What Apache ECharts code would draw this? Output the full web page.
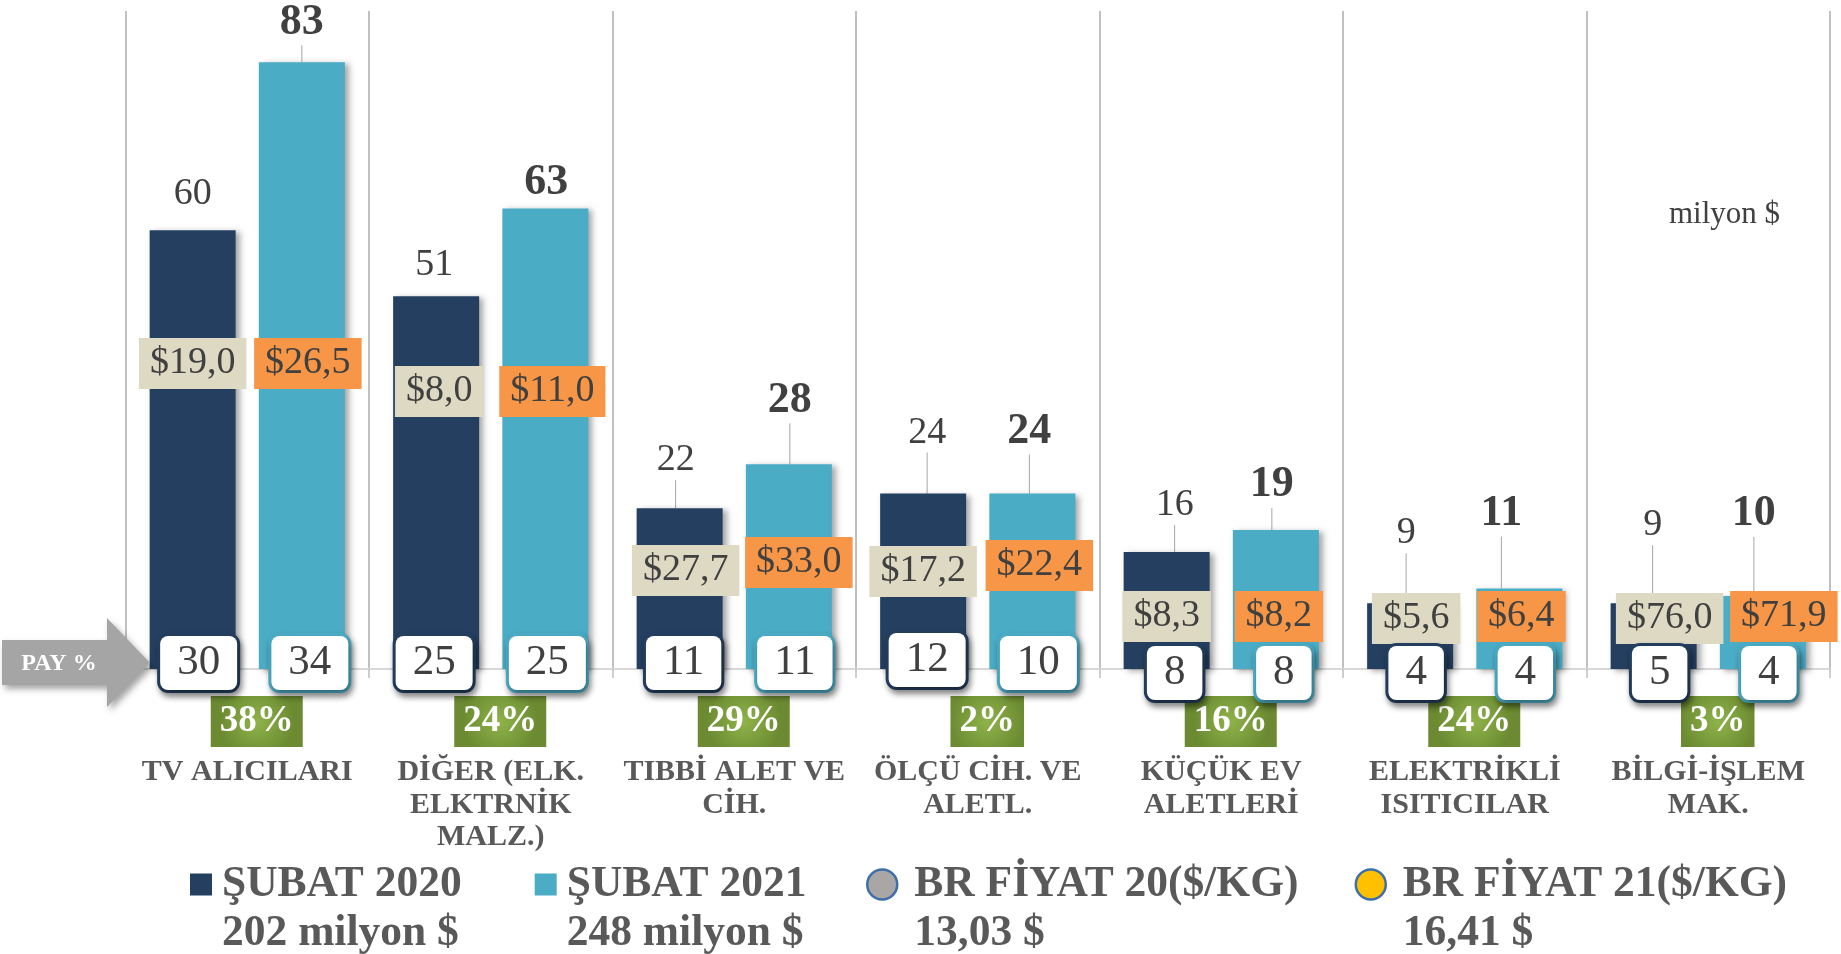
<!DOCTYPE html>
<html>
<head>
<meta charset="utf-8">
<title>Şubat 2020 - Şubat 2021</title>
<script src="https://cdn.jsdelivr.net/npm/echarts@6/dist/echarts.min.js"></script>
<style>
    html, body { margin: 0; padding: 0; background: #fff; }
    #chart { width: 1841px; height: 954px; }
</style>
</head>
<body>
<div id="chart"></div>
<script>
const categories = [
    'TV ALICILARI',
    'DİĞER (ELK.\nELKTRNİK\nMALZ.)',
    'TIBBİ ALET VE\nCİH.',
    'ÖLÇÜ CİH. VE\nALETL.',
    'KÜÇÜK EV\nALETLERİ',
    'ELEKTRİKLİ\nISITICILAR',
    'BİLGİ-İŞLEM\nMAK.'
];
const export2020 = [60, 51, 22, 24, 16, 9, 9];
const export2021 = [83, 63, 28, 24, 19, 11, 10];
const price2020 = [19.0, 8.0, 27.7, 17.2, 8.3, 5.6, 76.0];
const price2021 = [26.5, 11.0, 33.0, 22.4, 8.2, 6.4, 71.9];
const share2020 = [30, 25, 11, 12, 8, 4, 5];
const share2021 = [34, 25, 11, 10, 8, 4, 4];
const changePct = [38, 24, 29, 2, 16, 24, 3];
const seriesNames = ['ŞUBAT 2020', 'ŞUBAT 2021', 'BR FİYAT 20($/KG)', 'BR FİYAT 21($/KG)'];
const legendTotals = ['202 milyon $', '248 milyon $', '13,03 $', '16,41 $'];

// label nudges in px (hand placed in the original), kept apart from the values
const valueLabelShift = [
    [[0, -16], [-2, -11], [-4, -28], [4, -41], [8, -27], [-4, -50], [-1, -58]],
    [[0, -17], [1, -3], [1, -41], [-3, -39], [-4, -22], [-18, -52], [-9, -59]]
];
const valueLeader = [
    [false, false, true, true, true, true, true],
    [true, false, true, true, true, true, true]
];
const shareLabelShift = [
    [[6, 21], [-2, 21], [4, 21], [4, 18], [8, 31], [6, 31], [6, 31]],
    [[8, 21], [2, 21], [6, 21], [6, 21], [8, 31], [6, 31], [6, 31]]
];
const priceLabelShift = [
    [[0, -280], [3, -252], [6, -73], [0, -72], [0, -27], [6, -25], [16, -25]],
    [[6, -280], [7, -252], [10, -81], [7, -78], [3, -27], [2, -27], [21, -27]]
];

const FONT = "'Liberation Serif', 'Times New Roman', serif";
const NAVY = '#243f60';
const TEAL = '#4bacc6';
const BEIGE = '#ddd9c3';
const ORANGE = '#f79646';
const BAR_W = 86;
const BAR_GAP = '27%';

const chart = echarts.init(document.getElementById('chart'));

const fmtPrice = v => '$' + v.toFixed(1).replace('.', ',');

function valueSeries(name, data, color, shift, leader, bold) {
    return {
        name: name,
        type: 'bar',
        xAxisIndex: 0,
        barWidth: BAR_W,
        barGap: BAR_GAP,
        data: data.map((v, i) => ({
            value: v,
            labelLine: { show: leader[i] }
        })),
        itemStyle: {
            color: color,
            shadowColor: 'rgba(0, 0, 0, 0.35)',
            shadowBlur: 6,
            shadowOffsetX: 4,
            shadowOffsetY: 2
        },
        label: {
            show: true,
            position: 'top',
            distance: 0,
            fontFamily: FONT,
            fontSize: bold ? 44 : 38,
            lineHeight: bold ? 46 : 40,
            fontWeight: bold ? 'bold' : 'normal',
            color: '#404040'
        },
        labelLine: {
            show: true,
            lineStyle: { color: '#a6a6a6', width: 1 }
        },
        labelLayout: params => {
            const s = shift[params.dataIndex];
            return { dx: s[0], dy: s[1] };
        },
        emphasis: { disabled: true },
        z: 2
    };
}

function shareSeries(name, values, shares, border, shift) {
    return {
        name: name,
        type: 'bar',
        xAxisIndex: 1,
        barWidth: BAR_W,
        barGap: BAR_GAP,
        silent: true,
        data: values.map((v, i) => ({
            value: v,
            label: { offset: shift[i] }
        })),
        itemStyle: { color: 'rgba(0,0,0,0)' },
        label: {
            show: true,
            position: 'insideBottom',
            distance: 0,
            formatter: p => shares[p.dataIndex],
            fontFamily: FONT,
            fontSize: 43,
            lineHeight: 44,
            color: '#404040',
            backgroundColor: '#fff',
            borderColor: border,
            borderWidth: 3,
            borderRadius: 8,
            padding: [5, 17, 5, 17],
            shadowColor: 'rgba(0, 0, 0, 0.4)',
            shadowBlur: 6,
            shadowOffsetX: 2,
            shadowOffsetY: 4
        },
        emphasis: { disabled: true },
        z: 5
    };
}

function priceSeries(name, values, prices, fill, shift) {
    return {
        name: name,
        type: 'bar',
        xAxisIndex: 2,
        barWidth: BAR_W,
        barGap: BAR_GAP,
        silent: true,
        data: values.map((v, i) => ({
            value: v,
            label: { offset: shift[i] }
        })),
        itemStyle: { color: 'rgba(0,0,0,0)' },
        label: {
            show: true,
            position: 'insideBottom',
            distance: 0,
            formatter: p => fmtPrice(prices[p.dataIndex]),
            fontFamily: FONT,
            fontSize: 38,
            lineHeight: 41,
            color: '#404040',
            backgroundColor: fill,
            padding: [5, 11, 5, 11]
        },
        emphasis: { disabled: true },
        z: 4
    };
}

const hiddenAxis = {
    type: 'category',
    data: categories,
    show: false,
    gridIndex: 0
};

function legendText(gap) {
    return {
        fontFamily: FONT,
        fontSize: 43.5,
        fontWeight: 'bold',
        color: '#595959',
        padding: [0, 0, 0, gap],
        rich: {
            t: {
                fontFamily: FONT,
                fontSize: 43.5,
                fontWeight: 'bold',
                color: '#595959',
                height: 49,
                lineHeight: 49
            }
        }
    };
}
// blank first line keeps the icon level with the series name
const legendFormatter = name => '{t| }\n{t|' + name + '}\n{t|' + legendTotals[seriesNames.indexOf(name)] + '}';

chart.setOption({
    animation: false,
    backgroundColor: '#fff',
    grid: {
        left: 125.5,
        right: 11,
        top: 11,
        bottom: 285
    },
    xAxis: [
        {
            type: 'category',
            data: categories,
            axisLine: {
                lineStyle: { color: '#d9d9d9', width: 2 }
            },
            axisTick: {
                show: true,
                length: 9,
                lineStyle: { color: '#bfbfbf', width: 1.5 }
            },
            splitLine: {
                show: true,
                lineStyle: { color: '#ababab', width: 1.5 }
            },
            axisLabel: {
                interval: 0,
                margin: 27,
                formatter: (value, index) => '{sp| }{pct|' + changePct[index] + '%}\n{gap| }\n' +
                    value.split('\n').map(line => '{name|' + line + '}').join('\n'),
                rich: {
                    sp: { width: 19, fontSize: 10 },
                    pct: {
                        fontFamily: FONT,
                        fontSize: 37,
                        fontWeight: 'bold',
                        color: '#fff',
                        height: 39,
                        lineHeight: 51,
                        padding: [6, 9, 6, 9],
                        backgroundColor: new echarts.graphic.RadialGradient(0.5, 0.5, 0.75, [
                            { offset: 0, color: '#8fb34a' },
                            { offset: 1, color: '#6b8a31' }
                        ])
                    },
                    gap: { fontSize: 4, height: 9, lineHeight: 9 },
                    name: {
                        fontFamily: FONT,
                        fontSize: 30,
                        fontWeight: 'bold',
                        color: '#595959',
                        lineHeight: 32.5
                    }
                }
            }
        },
        hiddenAxis,
        hiddenAxis
    ],
    yAxis: {
        type: 'value',
        min: 0,
        max: 90,
        show: false,
        splitLine: { show: false }
    },
    legend: [
        {
            data: [seriesNames[0], seriesNames[1]],
            left: 185,
            top: 806,
            icon: 'rect',
            itemWidth: 22,
            itemHeight: 22,
            itemGap: 73,
            selectedMode: false,
            formatter: legendFormatter,
            textStyle: legendText(5)
        },
        {
            data: [
                {
                    name: seriesNames[2],
                    icon: 'circle',
                    itemStyle: { color: '#aaa6a6', borderColor: '#3e6fa8', borderWidth: 2.5 }
                },
                {
                    name: seriesNames[3],
                    icon: 'circle',
                    itemStyle: { color: '#ffc000', borderColor: '#3e6fa8', borderWidth: 2.5 }
                }
            ],
            left: 861,
            top: 806,
            itemWidth: 30,
            itemHeight: 30,
            itemGap: 56,
            selectedMode: false,
            formatter: legendFormatter,
            textStyle: legendText(12)
        }
    ],
    graphic: [
        {
            type: 'polygon',
            shape: {
                points: [[2, 640], [107, 640], [107, 618], [150, 663], [107, 707], [107, 685], [2, 685]]
            },
            style: {
                fill: '#a5a5a5',
                shadowColor: 'rgba(0, 0, 0, 0.35)',
                shadowBlur: 6,
                shadowOffsetX: 3,
                shadowOffsetY: 4
            },
            z: 10
        },
        {
            type: 'text',
            x: 59,
            y: 664,
            style: {
                text: 'PAY %',
                fontFamily: FONT,
                fontSize: 24,
                fontWeight: 'bold',
                fill: '#fff',
                align: 'center',
                verticalAlign: 'middle'
            },
            z: 11
        },
        {
            type: 'text',
            x: 1669,
            y: 215,
            style: {
                text: 'milyon $',
                fontFamily: FONT,
                fontSize: 31,
                fill: '#404040',
                align: 'left',
                verticalAlign: 'middle'
            }
        }
    ],
    series: [
        valueSeries(seriesNames[0], export2020, NAVY, valueLabelShift[0], valueLeader[0], false),
        valueSeries(seriesNames[1], export2021, TEAL, valueLabelShift[1], valueLeader[1], true),
        shareSeries('PAY 2020', export2020, share2020, NAVY, shareLabelShift[0]),
        shareSeries('PAY 2021', export2021, share2021, TEAL, shareLabelShift[1]),
        priceSeries(seriesNames[2], export2020, price2020, BEIGE, priceLabelShift[0]),
        priceSeries(seriesNames[3], export2021, price2021, ORANGE, priceLabelShift[1])
    ]
});
</script>
</body>
</html>
